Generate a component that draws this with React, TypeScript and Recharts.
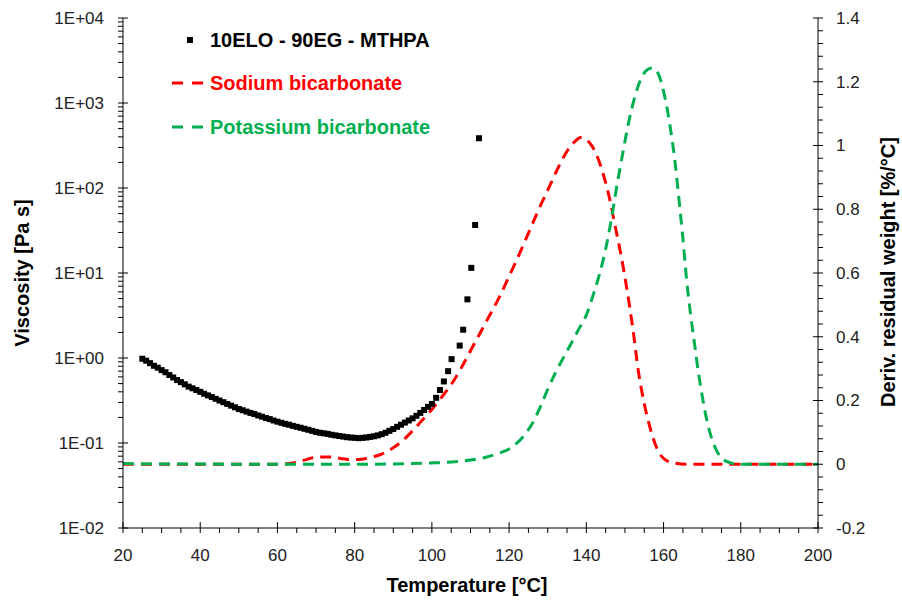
import {
  ComposedChart,
  Line,
  Scatter,
  XAxis,
  YAxis,
} from "recharts";

// viscosity of 10ELO - 90EG - MTHPA (Pa s)
const viscT = [
  25, 26, 27, 28, 29, 30, 31, 32, 33, 34, 35, 36, 37, 38, 39, 40, 41, 42, 43, 44,
  45, 46, 47, 48, 49, 50, 51, 52, 53, 54, 55, 56, 57, 58, 59, 60, 61, 62, 63, 64,
  65, 66, 67, 68, 69, 70, 71, 72, 73, 74, 75, 76, 77, 78, 79, 80, 81, 82, 83, 84,
  85, 86, 87, 88, 89, 90, 91, 92, 93, 94, 95, 96, 97, 98, 99, 100,
  101.1, 102.1, 103.1, 104.2, 105.1, 107.2, 108.1, 109.2, 110.2, 111.2, 112.2,
];
const viscValues = [
  0.98, 0.93, 0.87, 0.81, 0.77, 0.72, 0.68, 0.63, 0.59, 0.55, 0.52, 0.49, 0.46, 0.44, 0.42, 0.4, 0.38, 0.363, 0.347, 0.331,
  0.316, 0.302, 0.288, 0.275, 0.263, 0.251, 0.243, 0.234, 0.226, 0.219, 0.211, 0.204, 0.197, 0.191, 0.184, 0.178, 0.173, 0.168, 0.164, 0.159,
  0.155, 0.151, 0.147, 0.143, 0.139, 0.135, 0.132, 0.13, 0.128, 0.125, 0.123, 0.121, 0.119, 0.117, 0.116, 0.115, 0.114, 0.115, 0.116, 0.118,
  0.12, 0.123, 0.127, 0.132, 0.139, 0.146, 0.155, 0.164, 0.174, 0.184, 0.195, 0.209, 0.226, 0.245, 0.266, 0.288,
  0.34, 0.42, 0.53, 0.7, 0.97, 1.4, 2.15, 4.9, 11.5, 36.7, 385,
];

// derivative residual weight (%/°C), sodium bicarbonate
const sodiumT = [
  20, 30, 40, 50, 60, 63, 65, 67, 69, 71, 73, 75, 77, 79, 81, 83, 85, 87, 90, 92.5,
  95, 97.5, 100, 102.5, 105, 107.5, 110, 112.5, 115, 117.5, 120, 122.5, 125, 127.5, 130, 132.5, 135, 137, 138.5, 140,
  141.5, 143, 144.5, 146, 147.5, 149, 150.5, 152, 153.5, 155, 156.5, 158, 159.5, 161, 163, 166, 170, 180, 190, 200,
];
const sodiumValues = [
  0, 0, 0, 0, 0, 0.002, 0.006, 0.013, 0.02, 0.023, 0.023, 0.021, 0.017, 0.015, 0.015, 0.018, 0.024, 0.032, 0.052, 0.075,
  0.105, 0.138, 0.172, 0.21, 0.25, 0.3, 0.356, 0.412, 0.468, 0.525, 0.59, 0.655, 0.725, 0.795, 0.86, 0.925, 0.982, 1.012, 1.025, 1.018,
  0.998, 0.96, 0.905, 0.835, 0.745, 0.655, 0.55, 0.43, 0.29, 0.19, 0.115, 0.058, 0.025, 0.01, 0.003, 0, 0, 0, 0, 0,
];

// derivative residual weight (%/°C), potassium bicarbonate
const potassiumT = [
  20, 30, 40, 50, 60, 70, 80, 90, 100, 105, 110, 114, 117, 120, 122, 124, 126, 128, 130, 132,
  134, 136, 138, 140, 142, 143.5, 145, 146.5, 148, 149.5, 151, 152.5, 154, 155.5, 157, 158.5, 160, 161.5, 163, 164,
  165, 166, 167, 168, 169, 170, 171, 172, 173, 174, 175, 176.5, 178, 180, 190, 200,
];
const potassiumValues = [
  0.002, 0.001, 0.001, 0, 0, 0, 0, 0.001, 0.004, 0.007, 0.013, 0.022, 0.033, 0.048, 0.066, 0.092, 0.128, 0.178, 0.235, 0.287,
  0.333, 0.377, 0.423, 0.468, 0.54, 0.6, 0.675, 0.77, 0.88, 0.98, 1.075, 1.15, 1.205, 1.235, 1.243, 1.228, 1.17, 1.075, 0.945, 0.83,
  0.71, 0.575, 0.47, 0.38, 0.29, 0.215, 0.15, 0.1, 0.063, 0.037, 0.02, 0.008, 0.002, 0, 0, 0,
];

const xTicks = [20, 40, 60, 80, 100, 120, 140, 160, 180, 200];
const leftMajor = [0.01, 0.1, 1, 10, 100, 1000, 10000];
const leftLabels = ["1E-02", "1E-01", "1E+00", "1E+01", "1E+02", "1E+03", "1E+04"];
const rightMajor = [-0.2, 0, 0.2, 0.4, 0.6, 0.8, 1, 1.2, 1.4];
const rightLabels = ["-0.2", "0", "0.2", "0.4", "0.6", "0.8", "1", "1.2", "1.4"];

const viscosity = viscT.map((t, i) => ({ t, visc: viscValues[i] }));
const sodium = sodiumT.map((t, i) => ({ t, d: sodiumValues[i] }));
const potassium = potassiumT.map((t, i) => ({ t, d: potassiumValues[i] }));

// minor ticks
const xAll = Array.from({ length: 37 }, (_, i) => 20 + i * 5);
const leftAll = [...leftMajor];
for (let k = -2; k < 4; k++) {
  for (let m = 2; m < 10; m++) leftAll.push(m * Math.pow(10, k));
}
leftAll.sort((a, b) => a - b);
const rightAll = Array.from({ length: 41 }, (_, i) => Math.round((-0.2 + i * 0.04) * 100) / 100);

const FONT = "'Liberation Sans', Arial, sans-serif";
const TICK_COLOR = "#222";

function findIdx(list: number[], v: number) {
  return list.findIndex((m) => Math.abs(m - v) <= Math.abs(m) * 1e-6 + 1e-9);
}

function LeftTick({ x, y, payload }: any) {
  const i = findIdx(leftMajor, payload.value);
  if (i < 0) return <line x1={x - 5} x2={x} y1={y} y2={y} stroke="#000" />;
  return (
    <g>
      <line x1={x - 5} x2={x + 5} y1={y} y2={y} stroke="#000" />
      <text x={x - 19} y={y} dy="0.35em" textAnchor="end" fontSize={17} fontFamily={FONT} fill={TICK_COLOR}>
        {leftLabels[i]}
      </text>
    </g>
  );
}

function RightTick({ x, y, payload }: any) {
  const i = findIdx(rightMajor, payload.value);
  if (i < 0) return <line x1={x} x2={x + 5} y1={y} y2={y} stroke="#000" />;
  return (
    <g>
      <line x1={x - 5} x2={x + 5} y1={y} y2={y} stroke="#000" />
      <text x={x + 18} y={y} dy="0.35em" textAnchor="start" fontSize={17} fontFamily={FONT} fill={TICK_COLOR}>
        {rightLabels[i]}
      </text>
    </g>
  );
}

function BottomTick({ x, y, payload }: any) {
  const i = findIdx(xTicks, payload.value);
  if (i < 0) return <line x1={x} x2={x} y1={y} y2={y + 5} stroke="#000" />;
  return (
    <g>
      <line x1={x} x2={x} y1={y - 6} y2={y + 5} stroke="#000" />
      <text x={x} y={y + 27} dy="0.35em" textAnchor="middle" fontSize={17} fontFamily={FONT} fill={TICK_COLOR}>
        {String(xTicks[i])}
      </text>
    </g>
  );
}

const Square = (p: any) => <rect x={p.cx - 3} y={p.cy - 3} width={6} height={6} fill="#000" />;

export default function App() {
  return (
    <div style={{ position: "absolute", left: 0, top: 0, width: 902, height: 603, background: "#fff" }}>
      <ComposedChart width={902} height={603} margin={{ top: 18, right: 0, bottom: 0, left: 0 }}>
        <XAxis
          dataKey="t"
          type="number"
          domain={[20, 200]}
          ticks={xAll}
          interval={0}
          height={75}
          tickSize={0}
          tickMargin={0}
          tickLine={false}
          axisLine={{ stroke: "#000" }}
          tick={<BottomTick />}
        />
        <YAxis
          yAxisId="left"
          dataKey="visc"
          scale="log"
          domain={[0.01, 10000]}
          allowDataOverflow
          ticks={leftAll}
          interval={0}
          width={123}
          tickSize={0}
          tickMargin={0}
          tickLine={false}
          axisLine={{ stroke: "#000" }}
          tick={<LeftTick />}
        />
        <YAxis
          yAxisId="right"
          orientation="right"
          type="number"
          domain={[-0.2, 1.4]}
          allowDataOverflow
          ticks={rightAll}
          interval={0}
          width={84}
          tickSize={0}
          tickMargin={0}
          tickLine={false}
          axisLine={{ stroke: "#000" }}
          tick={<RightTick />}
        />
        <Scatter
          yAxisId="left"
          data={viscosity}
          dataKey="visc"
          shape={Square}
          isAnimationActive={false}
        />
        <Line
          yAxisId="right"
          data={sodium}
          dataKey="d"
          type="monotone"
          stroke="#ff0000"
          strokeWidth={3}
          strokeDasharray="11 7"
          dot={false}
          isAnimationActive={false}
        />
        <Line
          yAxisId="right"
          data={potassium}
          dataKey="d"
          type="monotone"
          stroke="#00b050"
          strokeWidth={3}
          strokeDasharray="11 7"
          dot={false}
          isAnimationActive={false}
        />
      </ComposedChart>
      <svg width={902} height={603} style={{ position: "absolute", left: 0, top: 0, pointerEvents: "none" }}>
        <g fontFamily={FONT} fontWeight="bold" fontSize={20}>
          <rect x={187} y={37} width={6} height={6} fill="#000" />
          <text x={210} y={47} fill="#000">10ELO - 90EG - MTHPA</text>
          <line x1={172} x2={204} y1={83} y2={83} stroke="#ff0000" strokeWidth={3} strokeDasharray="11 9" />
          <text x={210} y={90} fill="#ff0000">Sodium bicarbonate</text>
          <line x1={172} x2={204} y1={127} y2={127} stroke="#00b050" strokeWidth={3} strokeDasharray="11 9" />
          <text x={210} y={134} fill="#00b050">Potassium bicarbonate</text>
          <text x={467} y={585} dy="0.35em" textAnchor="middle" fill="#000">Temperature [°C]</text>
          <text x={22} y={273} dy="0.35em" textAnchor="middle" fill="#000" transform="rotate(-90 22 273)">
            Viscosity [Pa s]
          </text>
          <text x={888} y={272} dy="0.35em" textAnchor="middle" fill="#000" transform="rotate(-90 888 272)">
            Deriv. residual weight [%/°C]
          </text>
        </g>
      </svg>
    </div>
  );
}
